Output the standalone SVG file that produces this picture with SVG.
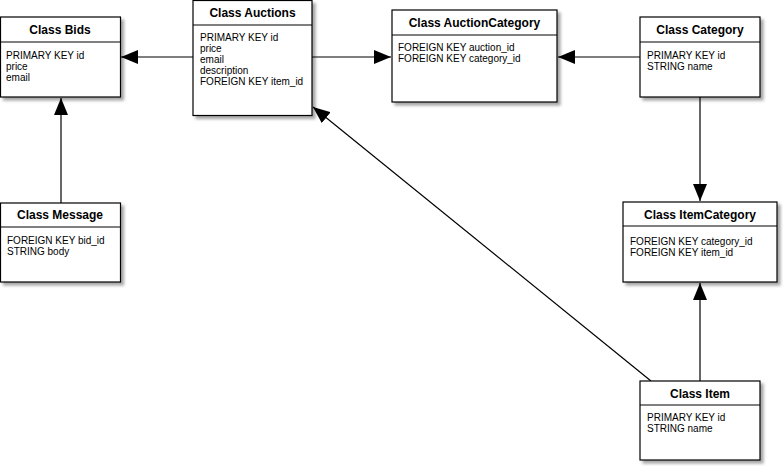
<svg xmlns="http://www.w3.org/2000/svg" width="783" height="466" viewBox="0 0 783 466">
<style>
.box{fill:#fff;stroke:#000;stroke-width:1.2;filter:url(#sh)}
.div{stroke:#000;stroke-width:1}
.hd{font-family:"Liberation Sans",Arial,sans-serif;font-size:12px;font-weight:bold;text-anchor:middle;fill:#000}
.bd{font-family:"Liberation Sans",Arial,sans-serif;font-size:10px;fill:#000}
.ln{stroke:#000;stroke-width:1.2;fill:none;marker-end:url(#ah)}
</style>
<defs>
<filter id="sh" x="-10%" y="-10%" width="130%" height="130%">
<feDropShadow dx="3" dy="3" stdDeviation="1.8" flood-color="#000" flood-opacity="0.35"/>
</filter>
<marker id="ah" viewBox="0 0 17 14" refX="17" refY="7" markerWidth="17" markerHeight="14" markerUnits="userSpaceOnUse" orient="auto">
<path d="M0,0 L17,7 L0,14 Z" fill="#000"/>
</marker>
</defs>
<rect width="783" height="466" fill="#fff"/>
<g id="connectors">
<line class="ln" x1="193" y1="57" x2="121" y2="57"/>
<line class="ln" x1="61" y1="203" x2="61" y2="98"/>
<line class="ln" x1="312" y1="57" x2="391" y2="57"/>
<line class="ln" x1="640" y1="57" x2="558" y2="57"/>
<line class="ln" x1="700" y1="97" x2="700" y2="201"/>
<line class="ln" x1="700" y1="381" x2="700" y2="283"/>
<line class="ln" x1="651" y1="381" x2="313" y2="107"/>
</g>
<g id="bids">
<rect class="box" x="0.5" y="17" width="120" height="80"/>
<line class="div" x1="0.5" y1="42" x2="120.5" y2="42"/>
<text class="hd" x="60" y="34">Class Bids</text>
<text class="bd" x="6" y="59">PRIMARY KEY id</text>
<text class="bd" x="6" y="70">price</text>
<text class="bd" x="6" y="81">email</text>
</g>
<g id="auctions">
<rect class="box" x="193" y="0.5" width="119" height="115"/>
<line class="div" x1="193" y1="25" x2="312" y2="25"/>
<text class="hd" x="252.5" y="17">Class Auctions</text>
<text class="bd" x="200" y="41">PRIMARY KEY id</text>
<text class="bd" x="200" y="52">price</text>
<text class="bd" x="200" y="63">email</text>
<text class="bd" x="200" y="74">description</text>
<text class="bd" x="200" y="85">FOREIGN KEY item_id</text>
</g>
<g id="auctioncategory">
<rect class="box" x="392" y="10" width="165" height="92"/>
<line class="div" x1="392" y1="35" x2="557" y2="35"/>
<text class="hd" x="474.5" y="27">Class AuctionCategory</text>
<text class="bd" x="398" y="51">FOREIGN KEY auction_id</text>
<text class="bd" x="398" y="62">FOREIGN KEY category_id</text>
</g>
<g id="category">
<rect class="box" x="640" y="17" width="120" height="80"/>
<line class="div" x1="640" y1="42" x2="760" y2="42"/>
<text class="hd" x="700" y="34">Class Category</text>
<text class="bd" x="647" y="59">PRIMARY KEY id</text>
<text class="bd" x="647" y="70">STRING name</text>
</g>
<g id="message">
<rect class="box" x="0.5" y="203" width="120" height="79"/>
<line class="div" x1="0.5" y1="227" x2="120.5" y2="227"/>
<text class="hd" x="60" y="219">Class Message</text>
<text class="bd" x="7" y="244">FOREIGN KEY bid_id</text>
<text class="bd" x="7" y="255">STRING body</text>
</g>
<g id="itemcategory">
<rect class="box" x="623" y="202" width="154" height="80"/>
<line class="div" x1="623" y1="226" x2="777" y2="226"/>
<text class="hd" x="700" y="219">Class ItemCategory</text>
<text class="bd" x="630" y="245">FOREIGN KEY category_id</text>
<text class="bd" x="630" y="256">FOREIGN KEY item_id</text>
</g>
<g id="item">
<rect class="box" x="640" y="381" width="120" height="79"/>
<line class="div" x1="640" y1="405" x2="760" y2="405"/>
<text class="hd" x="700" y="398">Class Item</text>
<text class="bd" x="647" y="421">PRIMARY KEY id</text>
<text class="bd" x="647" y="432">STRING name</text>
</g>
</svg>
